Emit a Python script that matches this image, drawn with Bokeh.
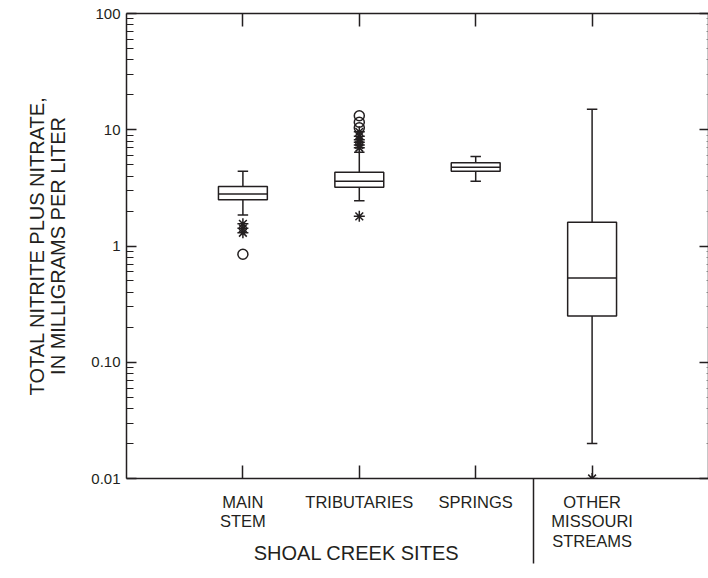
from bokeh.plotting import figure
from bokeh.models import (Range1d, FixedTicker, LogAxis, LinearAxis,
                          ColumnDataSource)
from bokeh.embed import file_html
from bokeh.resources import INLINE

# ---- data ----
categories = ["MAIN\nSTEM", "TRIBUTARIES", "SPRINGS", "OTHER\nMISSOURI\nSTREAMS"]
positions = [1, 2, 3, 4]
whisker_hi = [4.4, 6.4, 5.9, 15.0]
q3 = [3.25, 4.3, 5.2, 1.6]
median = [2.8, 3.6, 4.75, 0.53]
q1 = [2.5, 3.2, 4.4, 0.25]
whisker_lo = [1.85, 2.45, 3.6, 0.02]

star_x = [1, 1, 1, 2, 2, 2, 2, 2, 2, 2, 4]
star_y = [1.55, 1.42, 1.3, 9.6, 8.8, 8.2, 7.8, 7.4, 7.0, 1.8, 0.01]
circle_x = [1, 2, 2, 2]
circle_y = [0.85, 13.2, 11.6, 10.4]

y_ticks = [0.01, 0.1, 1, 10, 100]
y_tick_labels = ["0.01", "0.10", "1", "10", "100"]
y_minor = [m * 10.0 ** e for e in range(-2, 2) for m in range(2, 10)]

group_label = "SHOAL CREEK  SITES"
group_center = [2]
separator_x = [3.5]
y_title = "TOTAL NITRITE PLUS NITRATE,\nIN MILLIGRAMS PER LITER"

INK = "#231f20"
FONT = "Liberation Sans"
BOX_W = 0.42
CAP_W = 0.09
SEP_LEN = 85

p = figure(width=708, height=566, y_axis_type="log",
           x_range=Range1d(0, 5), y_range=Range1d(0.01, 100),
           output_backend="svg", toolbar_location=None,
           min_border_left=126, min_border_right=0, min_border_top=13,
           min_border_bottom=85, x_axis_location=None, y_axis_location=None)
p.grid.visible = False
p.outline_line_color = None
p.background_fill_color = "white"
p.border_fill_color = "white"

yticker = FixedTicker(ticks=y_ticks, minor_ticks=y_minor)
xticker = FixedTicker(ticks=positions, minor_ticks=separator_x)
top_ticker = FixedTicker(ticks=positions, minor_ticks=[])
group_ticker = FixedTicker(ticks=group_center, minor_ticks=[])

left = LogAxis(ticker=yticker, axis_label=y_title,
               major_label_overrides={t: l for t, l in zip(y_ticks, y_tick_labels)},
               major_tick_in=10, major_tick_out=0, minor_tick_in=7, minor_tick_out=0,
               major_label_standoff=6, axis_label_standoff=19,
               major_label_text_font=FONT, major_label_text_font_size="15px",
               major_label_text_color=INK,
               axis_label_text_font=FONT, axis_label_text_font_size="20px",
               axis_label_text_line_height=0.95,
               axis_label_text_font_style="normal", axis_label_text_color=INK,
               axis_line_color=INK, major_tick_line_color=INK, minor_tick_line_color=INK,
               axis_line_width=1.5, major_tick_line_width=1.5, minor_tick_line_width=1.2)
p.add_layout(left, "left")

right = LogAxis(ticker=yticker, major_tick_in=9, major_tick_out=0,
                minor_tick_in=2, minor_tick_out=0,
                major_label_overrides={t: "" for t in y_ticks},
                major_label_standoff=0,
                axis_line_color=INK, major_tick_line_color=INK, minor_tick_line_color="#888888",
                axis_line_width=1.5, major_tick_line_width=1.5, minor_tick_line_width=1)
p.add_layout(right, "right")

# bottom axis: category ticks inward, separator drawn as a long outward minor tick
bottom = LinearAxis(ticker=xticker,
                    major_label_overrides={pp: c for pp, c in zip(positions, categories)},
                    major_tick_in=13, major_tick_out=0,
                    minor_tick_in=0, minor_tick_out=SEP_LEN,
                    major_label_standoff=14 - SEP_LEN,
                    major_label_text_font=FONT, major_label_text_font_size="16.5px",
                    major_label_text_color=INK, major_label_text_line_height=1.1,
                    axis_line_color=INK, major_tick_line_color=INK, minor_tick_line_color=INK,
                    axis_line_width=1.5, major_tick_line_width=1.5, minor_tick_line_width=1.5)
p.add_layout(bottom, "below")

# group caption under the Shoal Creek categories
group_axis = LinearAxis(ticker=group_ticker,
                        major_label_overrides={group_center[0]: group_label},
                        major_tick_in=0, major_tick_out=0, major_label_standoff=-12,
                        major_label_text_font=FONT, major_label_text_font_size="20px",
                        major_label_text_color=INK,
                        axis_line_color=None, major_tick_line_color=None,
                        minor_tick_line_color=None)
p.add_layout(group_axis, "below")

top = LinearAxis(ticker=top_ticker, major_tick_in=13, major_tick_out=0,
                 major_label_overrides={pp: "" for pp in positions},
                 major_label_standoff=0,
                 axis_line_color=INK, major_tick_line_color=INK,
                 axis_line_width=1.5, major_tick_line_width=1.5)
p.add_layout(top, "above")

# ---- boxes ----
src = ColumnDataSource(dict(x=positions, q1=q1, q3=q3, med=median,
                            lo=whisker_lo, hi=whisker_hi,
                            bl=[x - BOX_W / 2 for x in positions],
                            br=[x + BOX_W / 2 for x in positions],
                            cl=[x - CAP_W / 2 for x in positions],
                            cr=[x + CAP_W / 2 for x in positions]))
p.segment("x", "q3", "x", "hi", source=src, line_color=INK, line_width=1.5)
p.segment("x", "lo", "x", "q1", source=src, line_color=INK, line_width=1.5)
p.quad(left="bl", right="br", top="q3", bottom="q1", source=src,
       fill_color="white", line_color=INK, line_width=1.5)
p.segment("bl", "med", "br", "med", source=src, line_color=INK, line_width=1.5)
p.segment("cl", "hi", "cr", "hi", source=src, line_color=INK, line_width=1.5)
p.segment("cl", "lo", "cr", "lo", source=src, line_color=INK, line_width=1.5)

p.scatter(star_x, star_y, marker="asterisk", size=11, line_color=INK, line_width=1.5)
p.scatter(circle_x, circle_y, marker="circle", size=10, fill_color=None,
          line_color=INK, line_width=1.5)

open("out.html", "w").write(file_html(p, INLINE))
